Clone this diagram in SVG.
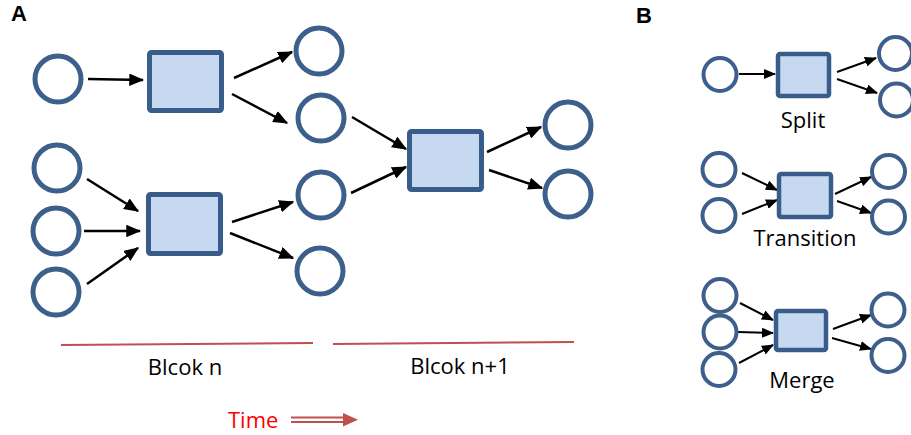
<svg xmlns="http://www.w3.org/2000/svg" width="911" height="435" viewBox="0 0 911 435">
<style>
.pl{fill:#fff;stroke:#3c5f8c;stroke-width:5}
.plb{fill:#fff;stroke:#3c5f8c;stroke-width:4}
.tr{fill:#c6d9f0;stroke:#385d8a;stroke-width:5}
.trb{fill:#c6d9f0;stroke:#385d8a;stroke-width:4.5}
.ar{stroke:#000;stroke-width:2.5;fill:none;marker-end:url(#ah)}
.arb{stroke:#000;stroke-width:2;fill:none;marker-end:url(#ah)}
.lbl{font-family:"Open Sans","Noto Sans",sans-serif;font-size:22px;fill:#000;text-anchor:middle}
.pan{font-family:"Liberation Sans",Arial,sans-serif;font-size:22px;font-weight:bold;fill:#000}
.red{stroke:#c0504d;stroke-width:2;fill:none}
</style>
<defs>
<marker id="ah" viewBox="0 0 6 5" refX="5.5" refY="2.5" markerWidth="6" markerHeight="5" orient="auto" markerUnits="strokeWidth">
<path d="M0,0 L6,2.5 L0,5 Z" fill="#000"/>
</marker>
</defs>
<text class="pan" x="11" y="21">A</text>
<text class="pan" x="636" y="23">B</text>
<g id="connectors">
<line class="ar" x1="88" y1="79" x2="143" y2="80"/>
<line class="ar" x1="234" y1="78" x2="292" y2="52"/>
<line class="ar" x1="232" y1="94" x2="287" y2="123"/>
<line class="ar" x1="87" y1="179" x2="138" y2="211"/>
<line class="ar" x1="84" y1="231" x2="140" y2="231"/>
<line class="ar" x1="87" y1="284" x2="138" y2="248"/>
<line class="ar" x1="232" y1="222" x2="293" y2="202"/>
<line class="ar" x1="230" y1="233" x2="293" y2="258"/>
<line class="ar" x1="352" y1="117" x2="406" y2="149"/>
<line class="ar" x1="351" y1="193" x2="406" y2="167"/>
<line class="ar" x1="487" y1="152" x2="541" y2="127"/>
<line class="ar" x1="489" y1="170" x2="542" y2="188"/>
<line class="arb" x1="739" y1="74" x2="775" y2="74"/>
<line class="arb" x1="837" y1="72" x2="876" y2="58"/>
<line class="arb" x1="837" y1="79" x2="877" y2="93"/>
<line class="arb" x1="742" y1="173" x2="777" y2="190"/>
<line class="arb" x1="742" y1="214" x2="777" y2="200"/>
<line class="arb" x1="835" y1="194" x2="871" y2="177"/>
<line class="arb" x1="837" y1="201" x2="871" y2="213"/>
<line class="arb" x1="740" y1="303" x2="773" y2="320"/>
<line class="arb" x1="738" y1="332" x2="773" y2="333"/>
<line class="arb" x1="739" y1="363" x2="773" y2="345"/>
<line class="arb" x1="833" y1="329" x2="871" y2="315"/>
<line class="arb" x1="832" y1="338" x2="871" y2="349"/>
</g>
<g id="A-p1"><circle class="pl" cx="58" cy="79" r="23"/></g>
<g id="A-p2"><circle class="pl" cx="319" cy="51" r="23"/></g>
<g id="A-p3"><circle class="pl" cx="321" cy="118" r="23"/></g>
<g id="A-p4"><circle class="pl" cx="57" cy="168" r="23"/></g>
<g id="A-p5"><circle class="pl" cx="56" cy="231" r="23"/></g>
<g id="A-p6"><circle class="pl" cx="56" cy="292" r="23"/></g>
<g id="A-p7"><circle class="pl" cx="321" cy="195" r="23"/></g>
<g id="A-p8"><circle class="pl" cx="320" cy="271" r="23"/></g>
<g id="A-p9"><circle class="pl" cx="568" cy="125" r="23"/></g>
<g id="A-p10"><circle class="pl" cx="568" cy="194" r="23"/></g>
<g id="A-t1"><rect class="tr" x="149.5" y="52.5" width="72" height="58" rx="2"/></g>
<g id="A-t2"><rect class="tr" x="148.5" y="194.5" width="72" height="59" rx="2"/></g>
<g id="A-t3"><rect class="tr" x="409.5" y="131.5" width="72" height="58" rx="2"/></g>
<g id="block-n">
<line class="red" x1="61" y1="345" x2="313" y2="343"/>
<text class="lbl" x="185" y="375">Blcok n</text>
</g>
<g id="block-n1">
<line class="red" x1="333" y1="344" x2="574" y2="342"/>
<text class="lbl" x="460" y="374">Blcok n+1</text>
</g>
<g id="time">
<text x="228" y="428" style="font-family:'Open Sans','Noto Sans',sans-serif;font-size:22px;fill:#ff0000">Time</text>
<line x1="291" y1="417.5" x2="345" y2="417.5" stroke="#c0504d" stroke-width="2"/>
<line x1="291" y1="422" x2="345" y2="422" stroke="#c0504d" stroke-width="2"/>
<polygon points="343,413 358,419.7 343,426.5" fill="#c0504d"/>
</g>
<g id="B-split">
<circle class="plb" cx="720" cy="74.5" r="16.5"/>
<rect class="trb" x="778" y="54" width="51" height="42" rx="2"/>
<circle class="plb" cx="895.5" cy="53.5" r="16.5"/>
<circle class="plb" cx="896.5" cy="100" r="16.5"/>
<text class="lbl" x="803" y="128">Split</text>
</g>
<g id="B-transition">
<circle class="plb" cx="719" cy="169.5" r="16.5"/>
<circle class="plb" cx="719" cy="215.5" r="16.5"/>
<rect class="trb" x="779" y="174" width="52" height="43" rx="2"/>
<circle class="plb" cx="888.5" cy="171.5" r="16.5"/>
<circle class="plb" cx="888.5" cy="217" r="16.5"/>
<text class="lbl" x="805" y="246">Transition</text>
</g>
<g id="B-merge">
<circle class="plb" cx="720" cy="295.5" r="16.5"/>
<circle class="plb" cx="720" cy="332" r="16.5"/>
<circle class="plb" cx="719" cy="369.5" r="16.5"/>
<rect class="trb" x="776" y="311" width="50" height="39" rx="2"/>
<circle class="plb" cx="888" cy="310" r="16.5"/>
<circle class="plb" cx="888" cy="355.5" r="16.5"/>
<text class="lbl" x="802" y="388">Merge</text>
</g>
</svg>
